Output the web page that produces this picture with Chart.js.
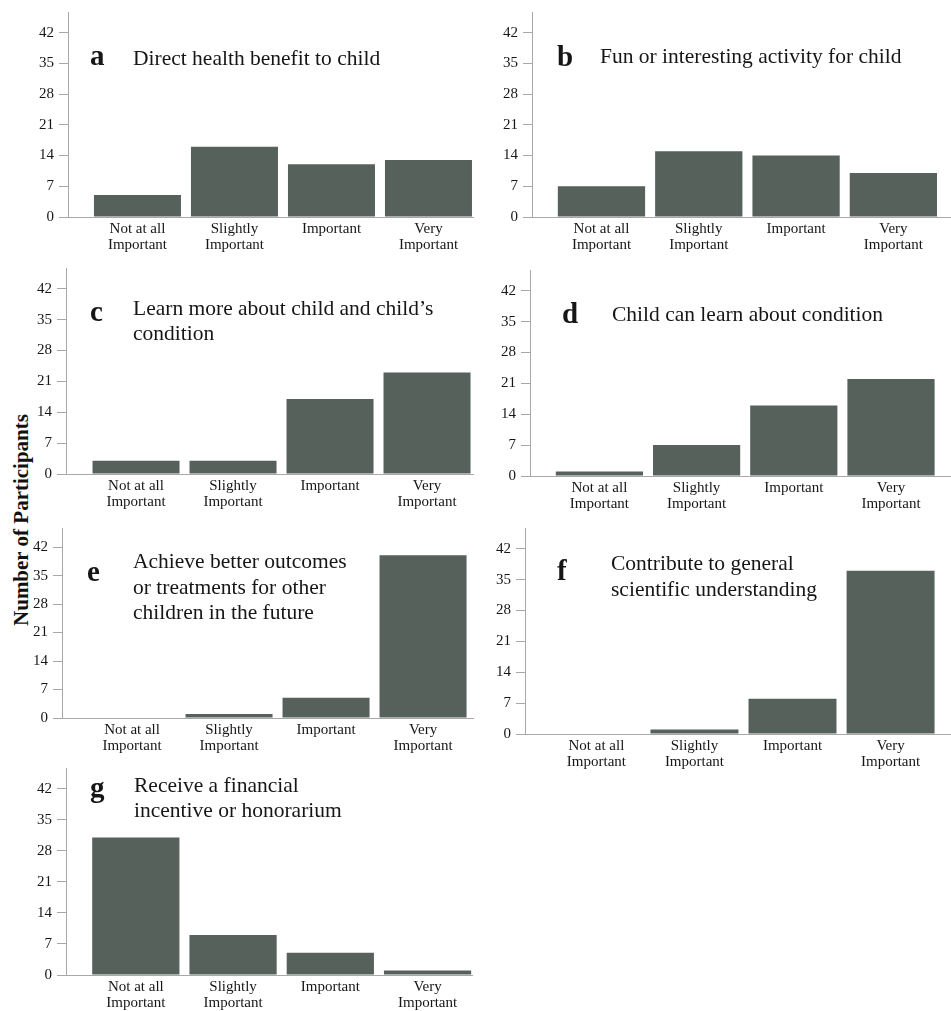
<!DOCTYPE html>
<html>
<head>
<meta charset="utf-8">
<script src="https://cdn.jsdelivr.net/npm/chart.js@4.4.1/dist/chart.umd.min.js"></script>
<style>
    html, body { margin: 0; padding: 0; background: #ffffff; }
    #page { position: relative; width: 951px; height: 1011px; overflow: hidden; }
    #page canvas { position: absolute; }
    #ylabel {
        position: absolute;
        left: 21px;
        top: 520px;
        transform: translate(-50%, -50%) rotate(-90deg);
        font: bold 21px "Liberation Serif", serif;
        color: #111;
        white-space: nowrap;
    }
</style>
</head>
<body>
<div id="page">
    <div id="ylabel">Number of Participants</div>
</div>
<script>
// categories (multi-line tick labels)
const categories = [
    ['Not at all', 'Important'],
    ['Slightly', 'Important'],
    ['Important'],
    ['Very', 'Important'],
];

// y tick labels: 0, 7, ... 42
const yTickStep = 7;
const yTickTop = 42;

// participant counts per panel
const valuesA = [5, 16, 12, 13];
const valuesB = [7, 15, 14, 10];
const valuesC = [3, 3, 17, 23];
const valuesD = [1, 7, 16, 22];
const valuesE = [0, 1, 5, 40];
const valuesF = [0, 1, 8, 37];
const valuesG = [31, 9, 5, 1];

const panelLetters = ['a', 'b', 'c', 'd', 'e', 'f', 'g'];

const titleA = ['Direct health benefit to child'];
const titleB = ['Fun or interesting activity for child'];
const titleC = ['Learn more about child and child\u2019s', 'condition'];
const titleD = ['Child can learn about condition'];
const titleE = ['Achieve better outcomes', 'or treatments for other', 'children in the future'];
const titleF = ['Contribute to general', 'scientific understanding'];
const titleG = ['Receive a financial', 'incentive or honorarium'];

const BAR_COLOR = '#55615a';
const AXIS_COLOR = '#a8a8a8';
const TEXT_COLOR = '#161616';
const FONT = '"Liberation Serif", "Times New Roman", serif';

// canvas box, plot box [left, top, right, bottom] in page px, x range, text spots
const panels = [
    { values: valuesA, title: titleA, box: [0, 0, 480, 258], area: [68, 12, 473, 217],
      xMin: -0.716, xMax: 3.459, letter: [90, 65], text: [133, 65], gap: 25 },
    { values: valuesB, title: titleB, box: [480, 0, 471, 258], area: [532, 12, 950, 217],
      xMin: -0.714, xMax: 3.582, letter: [557, 66], text: [600, 63], gap: 25 },
    { values: valuesC, title: titleC, box: [0, 258, 480, 258], area: [66, 268, 473, 474],
      xMin: -0.722, xMax: 3.474, letter: [90, 321], text: [133, 315], gap: 25 },
    { values: valuesD, title: titleD, box: [480, 258, 471, 260], area: [530, 270, 950, 476],
      xMin: -0.714, xMax: 3.607, letter: [562, 323], text: [612, 321], gap: 25 },
    { values: valuesE, title: titleE, box: [0, 516, 480, 244], area: [62, 528, 473, 718],
      xMin: -0.722, xMax: 3.515, letter: [87, 581], text: [133, 568], gap: 25.5 },
    { values: valuesF, title: titleF, box: [480, 518, 471, 260], area: [525, 528, 950, 734],
      xMin: -0.728, xMax: 3.606, letter: [557, 580], text: [611, 570], gap: 26 },
    { values: valuesG, title: titleG, box: [0, 760, 480, 251], area: [66, 768, 472, 975],
      xMin: -0.718, xMax: 3.457, letter: [90, 797], text: [134, 792], gap: 25 },
];

// y max chosen so that 42 sits ~20px under the axis top
const Y_MAX = 46.7;

function makeTextPlugin(panel, letter) {
    const ox = panel.box[0];
    const oy = panel.box[1];

    return {
        id: 'panelText',
        afterDraw(chart) {
            const ctx = chart.ctx;
            ctx.save();
            ctx.fillStyle = TEXT_COLOR;
            ctx.textAlign = 'left';
            ctx.textBaseline = 'alphabetic';

            ctx.font = 'bold 29px ' + FONT;
            ctx.fillText(letter, panel.letter[0] - ox, panel.letter[1] - oy);

            ctx.font = '21.5px ' + FONT;
            panel.title.forEach((line, i) => {
                ctx.fillText(line, panel.text[0] - ox, panel.text[1] - oy + i * panel.gap);
            });
            ctx.restore();
        },
    };
}

function createPanel(panel, index) {
    const [left, top, width, height] = panel.box;
    const [aL, aT, aR, aB] = panel.area;

    const canvas = document.createElement('canvas');
    canvas.width = width;
    canvas.height = height;
    canvas.style.left = left + 'px';
    canvas.style.top = top + 'px';
    canvas.style.width = width + 'px';
    canvas.style.height = height + 'px';
    document.getElementById('page').appendChild(canvas);

    const points = panel.values.map((v, i) => ({ x: i, y: v }));

    new Chart(canvas.getContext('2d'), {
        type: 'bar',
        data: {
            datasets: [
                {
                    data: points,
                    backgroundColor: BAR_COLOR,
                    borderWidth: 0,
                    categoryPercentage: 1,
                    barPercentage: 0.897,
                },
            ],
        },
        options: {
            responsive: false,
            animation: false,
            events: [],
            layout: {
                padding: {
                    top: aT - top,
                    right: left + width - aR,
                    bottom: 0,
                    left: 0,
                },
            },
            plugins: {
                legend: { display: false },
                tooltip: { enabled: false },
            },
            scales: {
                x: {
                    type: 'linear',
                    min: panel.xMin,
                    max: panel.xMax,
                    offset: false,
                    grid: {
                        display: true,
                        drawOnChartArea: false,
                        drawTicks: false,
                        offset: false,
                    },
                    border: { display: true, color: AXIS_COLOR, width: 1 },
                    ticks: {
                        stepSize: 1,
                        includeBounds: false,
                        autoSkip: false,
                        maxRotation: 0,
                        minRotation: 0,
                        padding: 4,
                        color: TEXT_COLOR,
                        font: { family: FONT, size: 15, lineHeight: 1.05 },
                        callback(value) {
                            return categories[value] || '';
                        },
                    },
                    afterFit(scale) {
                        scale.height = top + height - aB;
                        scale.paddingLeft = 0;
                        scale.paddingRight = 0;
                    },
                },
                y: {
                    min: 0,
                    max: Y_MAX,
                    grid: {
                        display: true,
                        drawOnChartArea: false,
                        drawTicks: true,
                        tickLength: 9,
                        color: AXIS_COLOR,
                    },
                    border: { display: true, color: AXIS_COLOR, width: 1 },
                    ticks: {
                        stepSize: yTickStep,
                        includeBounds: false,
                        padding: 5,
                        color: TEXT_COLOR,
                        font: { family: FONT, size: 15 },
                        callback(value) {
                            return value <= yTickTop ? String(value) : '';
                        },
                    },
                    afterFit(scale) {
                        scale.width = aL - left;
                        scale.paddingTop = 0;
                        scale.paddingBottom = 0;
                    },
                },
            },
        },
        plugins: [makeTextPlugin(panel, panelLetters[index])],
    });
}

panels.forEach(createPanel);
</script>
</body>
</html>
